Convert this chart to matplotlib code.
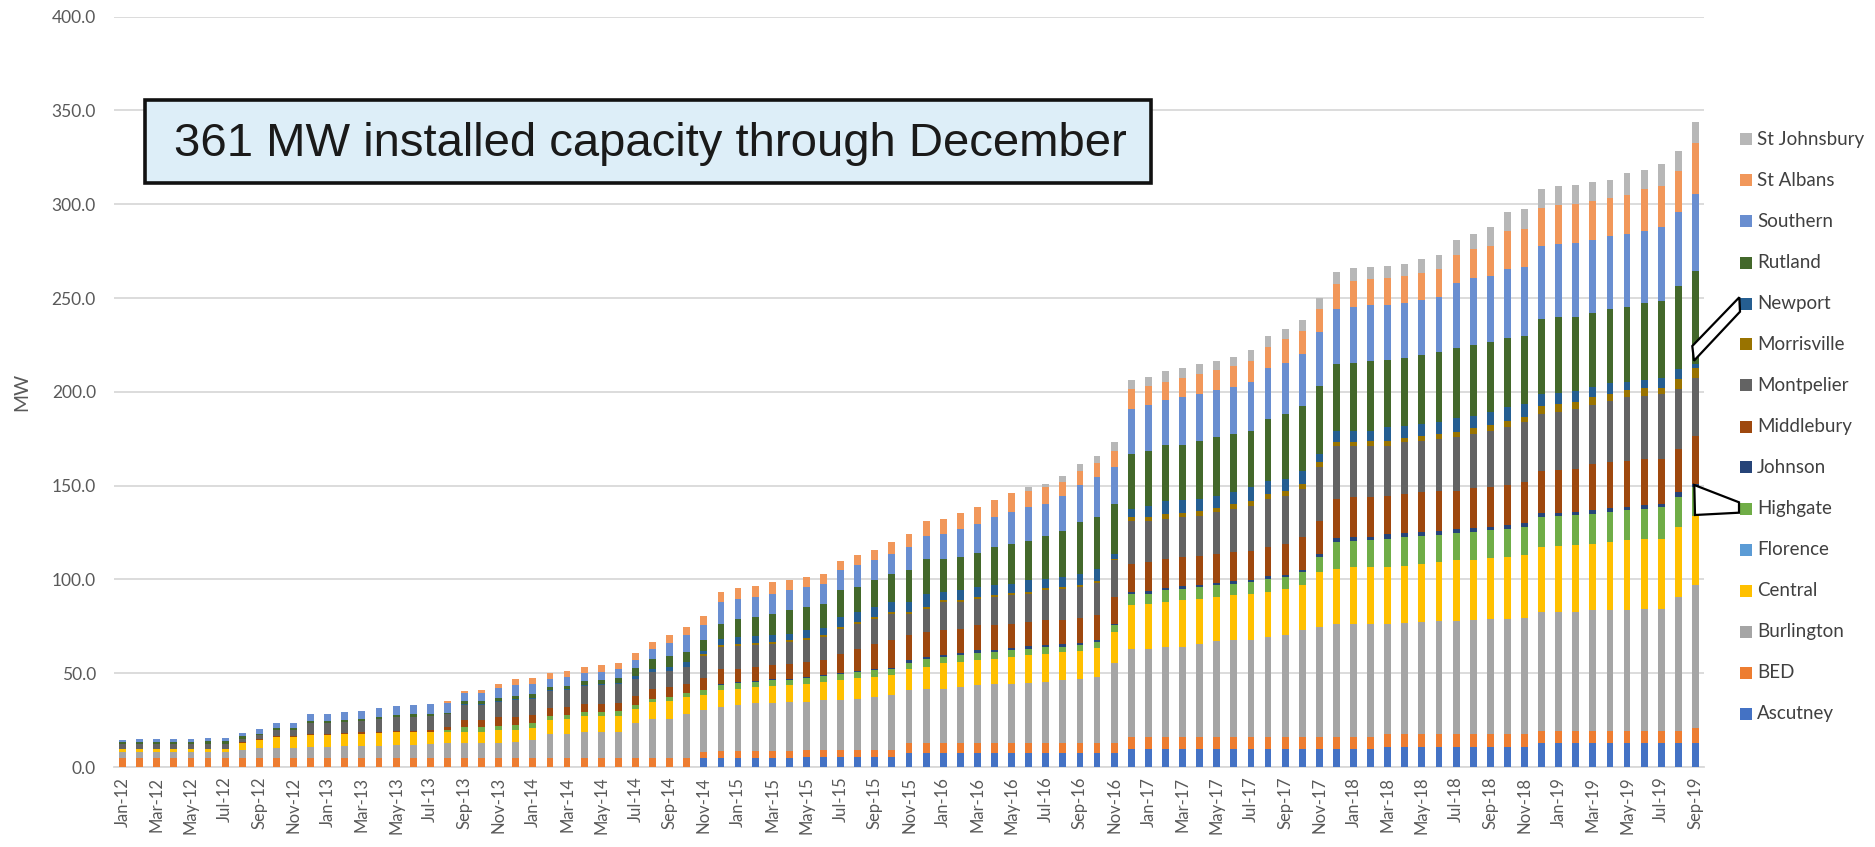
import matplotlib
matplotlib.use("Agg")
import matplotlib.pyplot as plt
from matplotlib.patches import Rectangle, Polygon
import numpy as np
import pandas as pd

# monthly installed net-metering capacity (MW) by utility, Jan-12 .. Sep-19
months = pd.date_range("2012-01-01", periods=93, freq="MS").strftime("%b-%y").tolist()

ascutney = [
    0, 0, 0, 0, 0, 0, 0, 0, 0, 0, 0, 0,
    0, 0, 0, 0, 0, 0, 0, 0, 0, 0, 0, 0,
    0, 0, 0, 0, 0, 0, 0, 0, 0, 0, 4.6, 4.6,
    5.0, 5.0, 5.0, 5.0, 5.5, 5.5, 5.5, 5.5, 5.5, 5.5, 7.3, 7.3,
    7.3, 7.3, 7.3, 7.3, 7.3, 7.3, 7.3, 7.3, 7.3, 7.3, 7.3, 9.4,
    9.4, 9.4, 9.4, 9.4, 9.4, 9.4, 9.4, 9.4, 9.4, 9.4, 9.4, 9.4,
    9.4, 9.4, 10.8, 10.8, 10.8, 10.8, 10.8, 10.8, 10.8, 10.8, 10.8, 12.6,
    12.6, 12.6, 12.6, 12.6, 12.6, 12.6, 12.6, 12.6, 12.6,
]
bed = [
    4.6, 4.6, 4.6, 4.6, 4.6, 4.6, 4.6, 4.6, 4.6, 4.6, 4.6, 4.6,
    4.6, 4.6, 4.6, 4.6, 4.6, 4.6, 4.6, 4.6, 4.6, 4.6, 4.6, 4.6,
    4.6, 4.6, 4.6, 4.6, 4.6, 4.6, 4.6, 4.6, 4.6, 4.6, 3.5, 4.1,
    3.7, 3.7, 3.7, 3.7, 3.5, 3.5, 3.5, 3.5, 3.5, 3.5, 5.6, 5.6,
    5.6, 5.6, 5.6, 5.6, 5.6, 5.6, 5.6, 5.6, 5.6, 5.6, 5.6, 6.4,
    6.4, 6.4, 6.4, 6.4, 6.4, 6.4, 6.4, 6.4, 6.4, 6.4, 6.4, 6.4,
    6.4, 6.4, 6.8, 6.8, 6.8, 6.8, 6.8, 6.8, 6.8, 6.8, 6.8, 6.8,
    6.8, 6.8, 6.8, 6.8, 6.8, 6.8, 6.8, 6.8, 8.0,
]
burlington = [
    3.6, 3.6, 3.6, 3.6, 3.6, 3.6, 3.6, 4.5, 5.4, 5.4, 5.4, 6.2,
    6.2, 6.4, 6.4, 6.6, 7.0, 7.2, 7.4, 8.0, 8.0, 8.0, 8.4, 8.9,
    9.8, 12.9, 13.2, 14.2, 14.2, 14.2, 18.9, 21.2, 21.2, 23.9, 22.2, 23.4,
    24.3, 25.2, 25.2, 26.0, 25.7, 26.6, 26.6, 27.5, 28.4, 29.3, 28.0, 28.9,
    28.9, 29.8, 30.7, 31.2, 31.6, 32.0, 32.5, 33.4, 34.0, 35.0, 42.3, 47.3,
    47.3, 48.2, 48.2, 49.6, 51.4, 51.8, 51.8, 53.6, 54.5, 57.5, 58.6, 60.3,
    60.3, 60.3, 58.8, 59.2, 59.7, 60.2, 60.2, 60.6, 61.5, 61.5, 62.0, 63.2,
    63.2, 63.2, 64.1, 64.5, 64.5, 65.0, 65.0, 71.2, 76.2,
]
central = [
    1.2, 1.2, 1.2, 1.2, 1.2, 1.2, 1.2, 3.5, 4.4, 6.1, 6.1, 6.3,
    6.3, 6.5, 6.6, 6.7, 6.8, 6.8, 6.8, 6.2, 6.2, 6.2, 6.5, 6.2,
    6.4, 7.5, 7.6, 8.2, 8.4, 8.6, 7.5, 9.0, 9.5, 8.9, 8.0, 8.9,
    8.8, 8.9, 9.2, 8.9, 9.8, 9.8, 10.7, 10.7, 10.7, 10.6, 11.5, 11.6,
    13.4, 13.3, 13.7, 13.7, 13.9, 14.7, 15.1, 14.8, 15.0, 15.4, 16.8, 23.1,
    24.0, 24.0, 24.8, 24.3, 23.4, 23.9, 24.8, 23.9, 24.8, 23.5, 29.5, 29.6,
    30.5, 30.5, 30.1, 30.6, 31.0, 31.4, 32.3, 32.2, 32.4, 33.1, 33.2, 34.6,
    35.0, 35.5, 35.5, 36.0, 36.9, 37.2, 37.2, 37.2, 37.2,
]
florence = [
    0, 0, 0, 0, 0, 0, 0, 0, 0, 0, 0, 0,
    0, 0, 0, 0, 0, 0, 0, 0, 0, 0, 0, 0,
    0, 0, 0, 0, 0, 0, 0, 0, 0, 0, 0, 0,
    0, 0, 0, 0, 0, 0, 0, 0, 0, 0, 0, 0,
    0, 0, 0, 0, 0, 0, 0, 0, 0, 0, 0, 0,
    0, 0, 0, 0, 0, 0, 0, 0, 0, 0, 0, 0,
    0, 0, 0, 0, 0, 0, 0, 0, 0, 0, 0, 0,
    0, 0, 0, 0, 0, 0, 0, 0, 0,
]
highgate = [
    0, 0, 0, 0, 0, 0, 0, 0, 0, 0, 0, 0,
    0, 0, 0, 0, 0, 0, 0, 1.0, 2.6, 2.6, 2.5, 2.6,
    2.4, 2.2, 2.2, 2.2, 2.2, 2.2, 1.8, 1.7, 1.8, 1.8, 2.7, 2.7,
    3.1, 2.6, 3.2, 3.0, 3.2, 3.0, 3.5, 3.5, 3.5, 3.6, 3.1, 4.4,
    3.2, 3.6, 3.5, 3.5, 3.8, 3.5, 3.5, 3.0, 3.0, 3.2, 3.9, 6.2,
    5.3, 6.2, 6.3, 6.2, 6.2, 6.2, 6.2, 7.1, 6.2, 7.1, 7.9, 14.1,
    14.1, 14.4, 15.1, 15.1, 15.1, 14.7, 14.6, 14.8, 14.6, 14.7, 15.0, 16.0,
    16.0, 16.0, 16.0, 16.0, 16.0, 16.0, 16.9, 16.0, 15.4,
]
johnson = [
    0, 0, 0, 0, 0, 0, 0, 0, 0, 0, 0, 0,
    0, 0, 0, 0, 0, 0, 0, 0, 0, 0, 0, 0,
    0, 0, 0, 0, 0, 0, 0, 0, 0, 0, 0, 0.5,
    0.5, 0.5, 0.5, 0.5, 0.5, 0.5, 0.5, 0.5, 0.5, 0.5, 1.4, 0.9,
    1.2, 1.2, 1.4, 1.3, 1.3, 1.3, 1.3, 1.3, 1.3, 1.3, 0.5, 0.9,
    1.4, 1.3, 1.3, 1.3, 1.3, 1.3, 1.3, 1.3, 1.3, 1.3, 1.5, 2.3,
    1.8, 1.6, 2.4, 2.1, 2.1, 2.1, 2.1, 2.1, 2.1, 2.1, 2.1, 2.1,
    2.0, 2.0, 2.0, 2.0, 2.0, 2.0, 1.8, 2.6, 1.4,
]
middlebury = [
    0.4, 0.4, 0.4, 0.4, 0.4, 0.4, 0.4, 0.5, 0.5, 0.6, 0.6, 0.7,
    0.7, 0.7, 0.8, 0.8, 0.8, 0.8, 0.8, 1.5, 3.6, 3.6, 4.5, 4.5,
    4.4, 4.4, 4.4, 4.4, 4.4, 4.4, 5.0, 5.0, 5.3, 5.3, 6.6, 8.3,
    7.1, 7.5, 7.5, 7.7, 7.9, 8.1, 10.2, 11.9, 13.7, 14.6, 13.3, 13.3,
    13.3, 13.0, 13.3, 12.9, 12.9, 12.9, 12.9, 13.0, 13.2, 13.4, 14.2, 15.0,
    15.4, 15.4, 15.4, 15.5, 15.5, 15.5, 15.5, 15.5, 16.4, 17.3, 18.1, 20.8,
    21.3, 21.6, 20.7, 21.0, 21.0, 21.3, 20.5, 21.5, 21.3, 21.6, 21.9, 22.7,
    22.7, 22.8, 24.6, 24.5, 24.5, 24.6, 23.9, 23.1, 25.8,
]
montpelier = [
    2.4, 2.4, 2.4, 2.4, 2.4, 2.4, 2.4, 2.0, 2.2, 3.0, 3.0, 5.8,
    5.8, 6.0, 6.1, 7.0, 7.4, 7.5, 7.7, 7.2, 8.0, 8.0, 8.3, 8.8,
    8.8, 9.0, 9.2, 9.6, 9.8, 10.0, 9.0, 9.2, 9.0, 8.9, 11.6, 11.5,
    12.0, 11.5, 11.5, 11.9, 11.5, 12.4, 13.3, 13.3, 13.3, 14.2, 11.6, 12.4,
    15.1, 14.2, 14.2, 15.1, 15.1, 15.1, 16.0, 16.4, 16.6, 17.0, 19.5, 23.1,
    22.2, 21.4, 21.4, 21.3, 22.2, 23.1, 24.0, 25.7, 25.7, 25.7, 28.3, 28.4,
    27.5, 27.1, 26.6, 27.4, 27.5, 27.5, 28.4, 28.7, 29.8, 30.8, 31.9, 30.0,
    31.1, 31.9, 31.4, 32.6, 33.7, 33.8, 34.6, 32.1, 31.0,
]
morrisville = [
    0, 0, 0, 0, 0, 0, 0, 0, 0, 0, 0, 0,
    0, 0, 0, 0, 0, 0, 0, 0, 0, 0, 0, 0,
    0, 0, 0, 0, 0, 0, 0, 0, 0, 0, 1.0, 1.0,
    1.0, 1.0, 1.0, 1.0, 1.0, 1.0, 1.0, 1.0, 1.0, 1.0, 1.0, 1.0,
    1.0, 1.0, 1.0, 1.0, 1.0, 1.0, 1.0, 1.0, 1.0, 1.0, 1.0, 1.8,
    2.1, 2.7, 2.3, 2.3, 2.3, 2.4, 2.6, 2.6, 2.6, 2.8, 2.8, 1.7,
    1.7, 2.6, 2.7, 2.5, 2.5, 2.7, 2.8, 3.0, 3.2, 3.1, 3.1, 4.6,
    4.1, 3.7, 4.0, 4.0, 4.0, 4.0, 3.2, 5.3, 5.3,
]
newport = [
    0, 0, 0, 0, 0, 0, 0, 0, 0, 0, 0, 0,
    0, 0, 0, 0, 0, 0, 0, 0, 0.5, 0.5, 0.5, 0.6,
    0.6, 0.6, 0.6, 0.7, 0.7, 0.7, 1.5, 1.8, 2.0, 2.6, 1.8, 3.4,
    3.8, 3.9, 3.4, 3.4, 4.3, 3.9, 5.1, 5.2, 5.2, 5.2, 5.2, 6.6,
    4.3, 5.2, 5.2, 5.2, 5.2, 6.1, 5.2, 5.4, 6.0, 6.2, 2.5, 4.4,
    5.9, 7.0, 6.9, 6.7, 6.6, 6.5, 7.1, 7.2, 6.3, 6.9, 4.3, 6.3,
    6.3, 5.4, 7.0, 6.4, 6.3, 6.2, 7.8, 6.7, 6.5, 7.2, 6.6, 6.3,
    6.1, 6.0, 5.5, 5.5, 4.5, 4.5, 5.6, 5.2, 1.8,
]
rutland = [
    1.0, 1.0, 1.0, 1.0, 1.0, 1.5, 1.5, 1.3, 0.6, 1.3, 1.3, 0.8,
    0.8, 0.9, 1.0, 1.1, 1.1, 1.1, 1.2, 0.5, 1.5, 1.5, 1.5, 1.6,
    1.8, 1.4, 1.6, 1.7, 2.2, 2.9, 4.5, 5.2, 5.8, 5.3, 5.5, 8.0,
    9.8, 10.2, 11.6, 12.4, 12.4, 12.8, 14.3, 13.3, 14.2, 15.0, 16.8, 18.9,
    17.7, 17.7, 18.1, 20.4, 21.3, 21.2, 23.0, 24.8, 27.5, 28.0, 26.6, 29.3,
    29.3, 29.4, 29.5, 31.0, 31.0, 31.0, 30.2, 32.8, 34.5, 34.6, 36.1, 35.8,
    36.3, 36.9, 35.9, 35.9, 36.9, 37.8, 37.0, 37.8, 37.8, 37.2, 36.4, 39.7,
    40.3, 39.4, 39.7, 39.5, 39.7, 41.0, 40.8, 44.3, 49.7,
]
southern = [
    1.2, 1.7, 1.7, 1.7, 1.7, 1.7, 1.7, 1.5, 2.3, 2.2, 2.2, 4.1,
    4.1, 4.3, 4.4, 4.9, 4.9, 4.9, 5.0, 4.9, 4.2, 4.6, 5.4, 5.8,
    5.7, 4.4, 4.5, 4.4, 4.4, 4.5, 4.5, 5.2, 7.0, 8.9, 8.1, 11.6,
    10.6, 10.6, 10.6, 10.7, 10.6, 10.6, 10.6, 11.6, 10.6, 10.6, 12.4, 12.5,
    13.3, 15.1, 15.6, 16.0, 16.8, 17.8, 16.9, 18.7, 20.0, 21.2, 19.5, 23.9,
    24.3, 24.2, 25.1, 24.9, 25.3, 25.2, 25.8, 27.4, 27.5, 27.9, 29.2, 28.9,
    29.6, 30.2, 29.5, 29.7, 29.1, 29.1, 34.9, 35.5, 34.9, 36.4, 36.7, 39.0,
    39.0, 39.5, 38.5, 39.0, 39.0, 38.2, 39.4, 39.4, 41.1,
]
st_albans = [
    0, 0, 0, 0, 0, 0, 0, 0, 0, 0, 0, 0,
    0, 0, 0, 0, 0, 0, 0, 1.2, 1.4, 1.4, 2.3, 3.2,
    3.2, 3.2, 3.2, 3.4, 3.4, 3.4, 3.5, 3.8, 4.0, 4.5, 4.8, 5.3,
    5.9, 5.7, 6.2, 5.3, 5.3, 5.3, 5.0, 5.3, 5.7, 6.3, 7.1, 8.0,
    8.0, 8.3, 9.2, 9.2, 10.1, 8.8, 8.8, 7.1, 7.5, 7.6, 8.9, 10.6,
    10.2, 9.9, 10.3, 10.6, 10.6, 11.2, 11.5, 11.0, 12.4, 12.0, 11.9, 13.3,
    13.8, 13.6, 14.4, 14.2, 14.7, 14.7, 14.7, 15.4, 15.9, 20.4, 20.1, 20.5,
    20.6, 20.8, 20.9, 20.4, 20.9, 22.6, 21.8, 21.8, 27.1,
]
st_johnsbury = [
    0, 0, 0, 0, 0, 0, 0, 0, 0, 0, 0, 0,
    0, 0, 0, 0, 0, 0, 0, 0, 0, 0, 0, 0,
    0, 0, 0, 0, 0, 0, 0, 0, 0, 0, 0, 0,
    0, 0, 0, 0, 0, 0, 0, 0, 0, 0, 0, 0,
    0, 0, 0, 0, 0, 1.8, 1.8, 3.5, 3.5, 3.8, 4.4, 4.8,
    4.8, 5.4, 5.2, 5.3, 5.0, 4.8, 5.6, 5.9, 5.3, 5.7, 5.8, 6.7,
    6.8, 6.7, 6.2, 6.6, 7.1, 7.6, 7.8, 8.0, 10.2, 10.3, 11.1, 10.3,
    10.1, 10.3, 10.4, 9.7, 11.6, 10.1, 11.9, 10.9, 11.2,
]

utilities = ["Ascutney", "BED", "Burlington", "Central", "Florence", "Highgate",
             "Johnson", "Middlebury", "Montpelier", "Morrisville", "Newport",
             "Rutland", "Southern", "St Albans", "St Johnsbury"]
series = [ascutney, bed, burlington, central, florence, highgate, johnson,
          middlebury, montpelier, morrisville, newport, rutland, southern,
          st_albans, st_johnsbury]
colors = ["#4472C4", "#ED7D31", "#A5A5A5", "#FFC000", "#5B9BD5", "#70AD47",
          "#264478", "#9E480E", "#636363", "#997300", "#255E91", "#43682B",
          "#698ED0", "#F1975A", "#B7B7B7"]

W, H = 1875, 847
def fx(x):
    return x / W
def fy(y):
    return 1 - y / H

fig = plt.figure(figsize=(W / 100, H / 100), dpi=100)
ax = fig.add_axes([fx(114), fy(767), fx(1704) - fx(114), fy(16.7) - fy(767)])

x = np.arange(len(months))
bottom = np.zeros(len(months))
for vals, col in zip(series, colors):
    vals = np.array(vals, dtype=float)
    ax.bar(x, vals, width=0.4, bottom=bottom, color=col, linewidth=0, zorder=3)
    bottom += vals

ax.set_xlim(-0.5, len(months) - 0.5)
ax.set_ylim(0, 400)
ax.set_yticks(np.arange(0, 401, 50))
ax.set_yticklabels([f"{v:.1f}" for v in np.arange(0, 401, 50)])
ax.yaxis.grid(True, color="#D9D9D9", linewidth=1.3, zorder=0)
ax.set_axisbelow(True)
ax.set_xticks(x[::2])
ax.set_xticklabels(months[::2], rotation=90)

for side in ["top", "right", "left"]:
    ax.spines[side].set_visible(False)
ax.spines["bottom"].set_color("#D9D9D9")
ax.spines["bottom"].set_linewidth(1.3)
ax.tick_params(axis="both", length=0, colors="#595959")
ax.tick_params(axis="y", pad=13, labelsize=12.5)
ax.tick_params(axis="x", pad=7, labelsize=12)
for lbl in ax.get_xticklabels() + ax.get_yticklabels():
    lbl.set_fontfamily("Lato")

fig.text(fx(22), fy(392), "MW", rotation=90, ha="center", va="center",
         fontsize=14, color="#595959", family="Lato")

# headline box
fig.add_artist(Rectangle((fx(145), fy(183)), fx(1151) - fx(145), fy(100.5) - fy(183),
                         transform=fig.transFigure, facecolor="#DDEEF8",
                         edgecolor="#111111", linewidth=2.6, zorder=5))
fig.text(fx(174), fy(156), "361 MW installed capacity through December",
         fontsize=34, family="Liberation Sans", color="#1A1A1A",
         va="baseline", ha="left", zorder=6)

# legend, top entry is the last series in the stack
for i, (name, col) in enumerate(zip(utilities[::-1], colors[::-1])):
    yc = 139.5 + 41.0 * i
    fig.add_artist(Rectangle((fx(1740), fy(yc + 6)), fx(12), 12 / H,
                             transform=fig.transFigure, facecolor=col,
                             edgecolor="none"))
    fig.text(fx(1757), fy(yc), name, fontsize=13.5, color="#404040",
             family="Lato", va="center", ha="left")

# callouts tying Newport and Highgate to the last bar
newport_call = [(1739.3, 297.3), (1740, 311.7), (1694, 360.7), (1692.3, 346)]
highgate_call = [(1694.3, 485), (1739, 502.3), (1739, 512.7), (1695, 515)]
for pts in (newport_call, highgate_call):
    fig.add_artist(Polygon([(fx(a), fy(b)) for a, b in pts], closed=True,
                           transform=fig.transFigure, facecolor="white",
                           edgecolor="black", linewidth=1.6, zorder=7))

fig.savefig("out.png", dpi=100)
